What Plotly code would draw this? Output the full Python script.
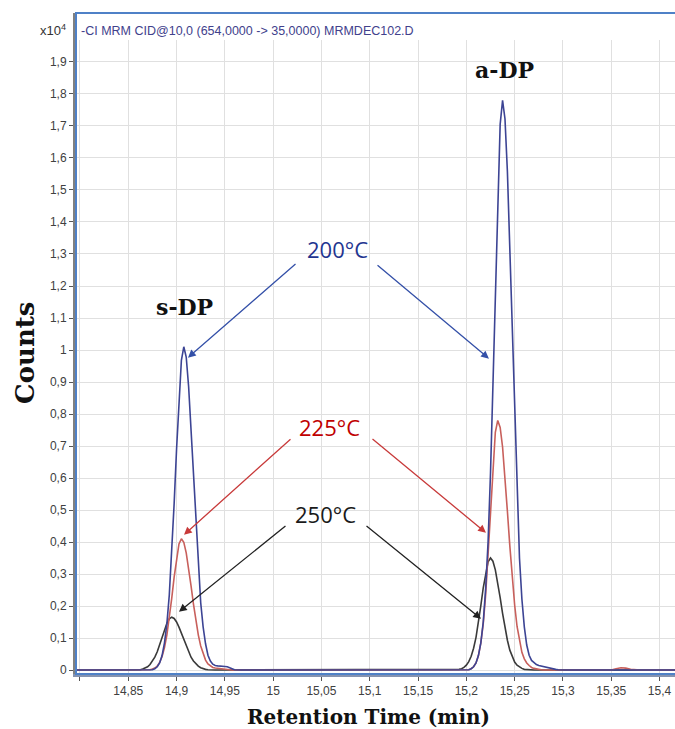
import plotly.graph_objects as go

# ---------------- data ----------------
lead_time = [14.79, 14.85]
lead_zero = [0.0, 0.0]

s_time = [14.860, 14.8625, 14.865, 14.8675, 14.870, 14.8725, 14.875, 14.8775, 14.880, 14.8825,
          14.885, 14.8875, 14.890, 14.8925, 14.895, 14.8975, 14.900, 14.9025, 14.905, 14.9075,
          14.910, 14.9125, 14.915, 14.9175, 14.920, 14.9225, 14.925, 14.9275, 14.930, 14.9325,
          14.935, 14.9375, 14.940, 14.9425, 14.945, 14.9475, 14.950, 14.9525, 14.955, 14.9575,
          14.960, 14.9625, 14.965, 14.9675, 14.970, 14.9725, 14.975]
s_200 = [0, 0, 0, 0, 0, 0, 0.001, 0.004, 0.010, 0.022,
         0.045, 0.085, 0.145, 0.235, 0.360, 0.520, 0.690, 0.850, 0.968, 1.010,
         0.978, 0.885, 0.750, 0.595, 0.445, 0.315, 0.210, 0.135, 0.082, 0.046,
         0.028, 0.018, 0.014, 0.013, 0.013, 0.012, 0.011, 0.010, 0.008, 0.004,
         0.001, 0, 0, 0, 0, 0, 0]
s_225 = [0, 0, 0, 0, 0, 0.001, 0.003, 0.006, 0.012, 0.024,
         0.042, 0.070, 0.110, 0.160, 0.224, 0.290, 0.351, 0.394, 0.410, 0.399,
         0.366, 0.318, 0.263, 0.206, 0.154, 0.110, 0.075, 0.049, 0.031, 0.019,
         0.012, 0.008, 0.006, 0.005, 0.004, 0.003, 0.002, 0, 0, 0,
         0, 0, 0, 0, 0, 0, 0]
s_250 = [0, 0.001, 0.003, 0.006, 0.010, 0.017, 0.027, 0.040, 0.057, 0.078,
         0.101, 0.125, 0.146, 0.160, 0.165, 0.161, 0.150, 0.134, 0.115, 0.095,
         0.074, 0.056, 0.040, 0.028, 0.019, 0.012, 0.007, 0.004, 0.002, 0.001,
         0, 0, 0, 0, 0, 0, 0, 0, 0, 0,
         0, 0, 0, 0, 0, 0, 0]

a_time = [15.190, 15.1925, 15.195, 15.1975, 15.200, 15.2025, 15.205, 15.2075, 15.210, 15.2125,
          15.215, 15.2175, 15.220, 15.2225, 15.225, 15.2275, 15.230, 15.2325, 15.235, 15.2375,
          15.240, 15.2425, 15.245, 15.2475, 15.250, 15.2525, 15.255, 15.2575, 15.260, 15.2625,
          15.265, 15.2675, 15.270, 15.2725, 15.275, 15.2775, 15.280, 15.2825, 15.285, 15.2875,
          15.290, 15.2925, 15.295, 15.2975, 15.300, 15.3025, 15.305, 15.3075, 15.310]
a_200 = [0, 0, 0, 0, 0, 0.001, 0.004, 0.010, 0.022, 0.045,
         0.085, 0.150, 0.255, 0.400, 0.615, 0.900, 1.212, 1.500, 1.705, 1.780,
         1.722, 1.558, 1.318, 1.040, 0.770, 0.535, 0.350, 0.222, 0.135, 0.078,
         0.046, 0.030, 0.022, 0.017, 0.014, 0.012, 0.011, 0.010, 0.008, 0.006,
         0.004, 0.002, 0.001, 0, 0, 0, 0, 0, 0]
a_225 = [0, 0, 0, 0, 0, 0.001, 0.004, 0.010, 0.022, 0.045,
         0.085, 0.145, 0.235, 0.360, 0.502, 0.642, 0.743, 0.780, 0.758, 0.697,
         0.605, 0.496, 0.388, 0.288, 0.203, 0.136, 0.088, 0.055, 0.035, 0.022,
         0.014, 0.008, 0.005, 0.003, 0.002, 0.001, 0, 0, 0, 0,
         0, 0, 0, 0, 0, 0, 0, 0, 0]
a_250 = [0, 0.002, 0.004, 0.008, 0.015, 0.026, 0.043, 0.068, 0.102, 0.147,
         0.201, 0.257, 0.305, 0.338, 0.350, 0.340, 0.313, 0.273, 0.226, 0.177,
         0.131, 0.093, 0.062, 0.040, 0.025, 0.015, 0.009, 0.005, 0.002, 0.001,
         0, 0, 0, 0, 0, 0, 0, 0, 0, 0,
         0, 0, 0, 0, 0, 0, 0, 0, 0]

t_time = [15.34, 15.35, 15.355, 15.36, 15.365, 15.37, 15.38, 15.42]
t_200 = [0, 0, 0, 0, 0, 0, 0, 0]
t_225 = [0, 0, 0.004, 0.007, 0.006, 0.002, 0, 0]
t_250 = [0, 0, 0, 0, 0, 0, 0, 0]

x_tickvals = [14.80, 14.85, 14.90, 14.95, 15.00, 15.05, 15.10, 15.15, 15.20, 15.25, 15.30, 15.35, 15.40]
x_ticktext = ["", "14,85", "14,9", "14,95", "15", "15,05", "15,1", "15,15", "15,2", "15,25", "15,3", "15,35", "15,4"]
y_tickvals = [0, 0.1, 0.2, 0.3, 0.4, 0.5, 0.6, 0.7, 0.8, 0.9, 1.0,
              1.1, 1.2, 1.3, 1.4, 1.5, 1.6, 1.7, 1.8, 1.9]
y_ticktext = ["0", "0,1", "0,2", "0,3", "0,4", "0,5", "0,6", "0,7", "0,8", "0,9", "1",
              "1,1", "1,2", "1,3", "1,4", "1,5", "1,6", "1,7", "1,8", "1,9"]

series_names = ["250°C", "225°C", "200°C"]
series_colors = ["#3a3a3a", "#c8605c", "#3c4494"]

# ---------------- figure ----------------
time_all = lead_time + s_time + a_time + t_time
values = [
    lead_zero + s_250 + a_250 + t_250,
    lead_zero + s_225 + a_225 + t_225,
    lead_zero + s_200 + a_200 + t_200,
]

fig = go.Figure()
for name, col, vals in zip(series_names, series_colors, values):
    fig.add_trace(go.Scatter(x=time_all, y=vals, mode="lines", name=name,
                             line=dict(color=col, width=1.6)))

X0, X1 = 14.7959, 15.416
Y0, Y1 = -0.0125, 2.0531

tick_font = dict(family="Liberation Sans, Arial, sans-serif", size=12, color="#404040")

fig.update_layout(
    width=675, height=729, autosize=False,
    margin=dict(l=76, r=0, t=13, b=55, pad=0),
    paper_bgcolor="white", plot_bgcolor="white",
    showlegend=False,
    font=dict(family="Liberation Sans, Arial, sans-serif", size=12, color="#404040"),
)
fig.update_xaxes(range=[X0, X1], tickvals=x_tickvals, ticktext=x_ticktext,
                 showgrid=True, gridcolor="#e0e0e0", gridwidth=1,
                 ticks="outside", ticklen=4, tickcolor="#555555", tickwidth=1,
                 showline=True, linecolor="#8593b0", linewidth=3, zeroline=False,
                 tickfont=tick_font)
fig.update_yaxes(range=[Y0, Y1], tickvals=y_tickvals, ticktext=y_ticktext,
                 showgrid=True, gridcolor="#e0e0e0", gridwidth=1,
                 ticks="outside", ticklen=4, tickcolor="#555555", tickwidth=1,
                 showline=True, linecolor="#808080", linewidth=3, zeroline=False,
                 tickfont=tick_font)

# header band and frame
fig.add_shape(type="rect", xref="paper", yref="paper", x0=0, x1=1, y0=0.959, y1=1,
              fillcolor="white", line=dict(width=0), layer="above")
fig.add_shape(type="rect", xref="paper", yref="paper", x0=0, x1=1.3, y0=0, y1=1,
              fillcolor="rgba(0,0,0,0)", line=dict(color="#4f81c7", width=2), layer="above")

serif = "DejaVu Serif, Liberation Serif, serif"
sans = "Open Sans, Liberation Sans, Arial, sans-serif"

fig.add_annotation(xref="paper", yref="paper", x=0.005, y=0.9735, xanchor="left", yanchor="middle",
                   text="-CI MRM CID@10,0 (654,0000 -> 35,0000) MRMDEC102.D", showarrow=False,
                   font=dict(family="Liberation Sans, Arial, sans-serif", size=12.5, color="#41418c"))
fig.add_annotation(xref="paper", yref="paper", x=-0.013, y=0.9743, xanchor="right", yanchor="middle",
                   text="x10<sup>4</sup>", showarrow=False,
                   font=dict(family="Liberation Sans, Arial, sans-serif", size=13, color="#333333"))
fig.add_annotation(xref="paper", yref="paper", x=-0.0851, y=0.4856, xanchor="center", yanchor="middle",
                   textangle=-90, text="<b>Counts</b>", showarrow=False,
                   font=dict(family=serif, size=26, color="#111111"))
fig.add_annotation(xref="paper", yref="paper", x=0.489, y=-0.065, xanchor="center", yanchor="middle",
                   text="<b>Retention Time (min)</b>", showarrow=False,
                   font=dict(family=serif, size=20, color="#111111"))

fig.add_annotation(x=14.9077, y=1.135, xanchor="center", yanchor="middle",
                   text="<b>s-DP</b>", showarrow=False,
                   font=dict(family=serif, size=22, color="#111111"))
fig.add_annotation(x=15.239, y=1.876, xanchor="center", yanchor="middle",
                   text="<b>a-DP</b>", showarrow=False,
                   font=dict(family=serif, size=22, color="#111111"))

labels = [("200°C", 15.0661, 1.316, "#1f3590"),
          ("225°C", 15.0588, 0.760, "#c00000"),
          ("250°C", 15.0547, 0.488, "#1a1a1a")]
for txt, lx, ly, col in labels:
    fig.add_annotation(x=lx, y=ly, xanchor="center", yanchor="middle", text=txt, showarrow=False,
                       font=dict(family=sans, size=22, color=col))

arrows = [
    (14.9118, 0.976, 15.0247, 1.2725, "#3450a8"),
    (15.2234, 0.973, 15.1065, 1.269, "#3450a8"),
    (14.9077, 0.4225, 15.0195, 0.7256, "#c83a3a"),
    (15.2203, 0.4288, 15.1013, 0.7256, "#c83a3a"),
    (14.9025, 0.182, 15.0143, 0.4537, "#222222"),
    (15.2152, 0.160, 15.0951, 0.4537, "#222222"),
]
for hx, hy, tx, ty, col in arrows:
    fig.add_annotation(x=hx, y=hy, ax=tx, ay=ty, xref="x", yref="y", axref="x", ayref="y",
                       text="", showarrow=True, arrowhead=2, arrowsize=1.2, arrowwidth=1.3,
                       arrowcolor=col)

fig.write_html("out.html", config={"displayModeBar": False},
               post_script="document.body.style.margin='0';document.body.style.overflow='hidden';")
